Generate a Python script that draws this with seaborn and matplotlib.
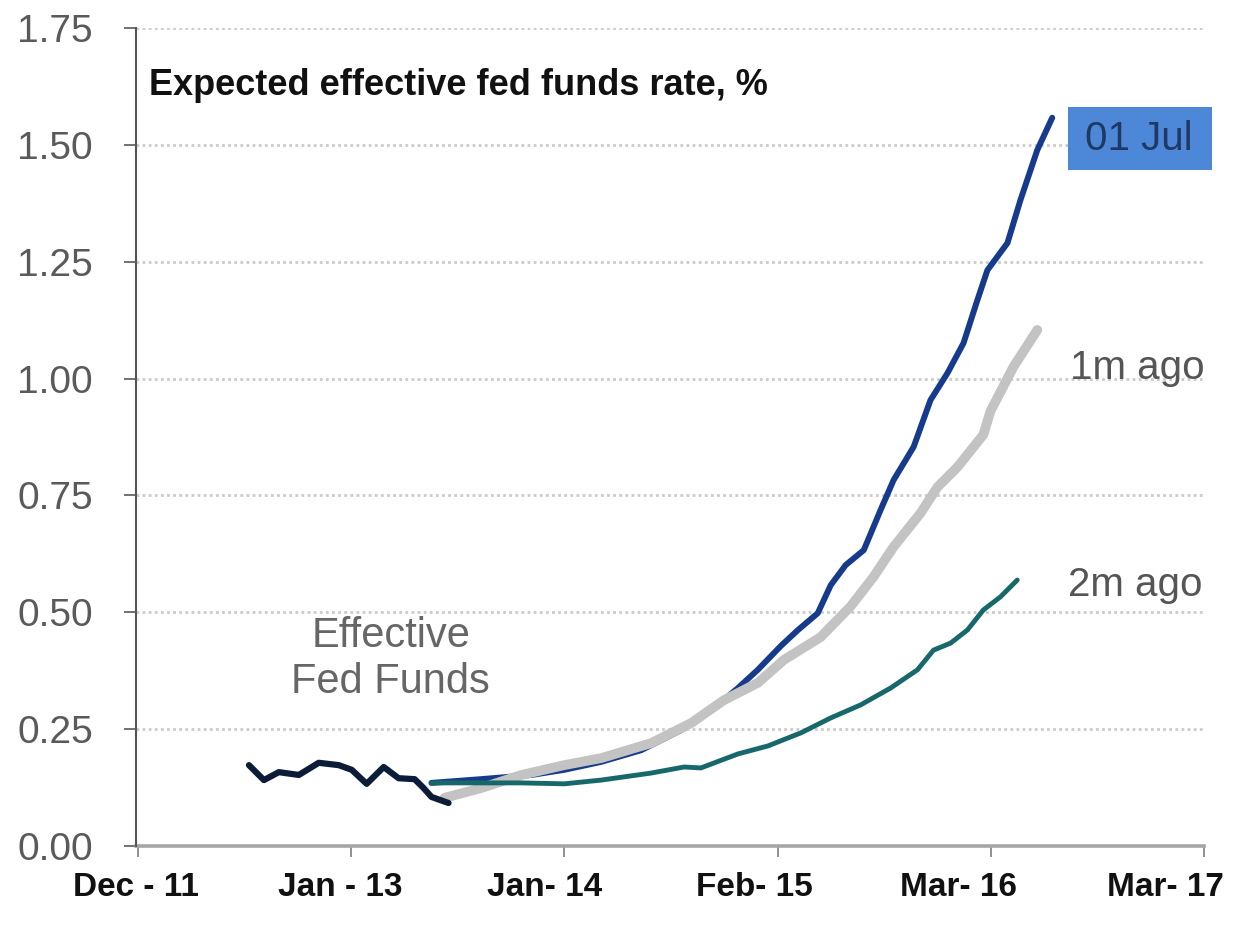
import numpy as np
import pandas as pd
import matplotlib
matplotlib.use("Agg")
import matplotlib.pyplot as plt
from matplotlib.patches import Rectangle
import seaborn as sns

# ---- data (x in axis tick units: 0 = Dec-11 ... 5 = Mar-17) ----
tick_labels = ["Dec - 11", "Jan - 13", "Jan- 14", "Feb- 15", "Mar- 16", "Mar- 17"]
label_pos = [-0.01, 0.95, 1.905, 2.893, 3.848, 4.817]

eff_x = [0.520, 0.590, 0.660, 0.754, 0.847, 0.941, 1.002, 1.072, 1.152, 1.222, 1.297, 1.339, 1.376, 1.456]
eff_y = [0.173, 0.141, 0.158, 0.152, 0.178, 0.173, 0.163, 0.133, 0.169, 0.145, 0.143, 0.124, 0.105, 0.092]

jul_x = [1.376, 1.610, 1.845, 1.999, 2.172, 2.360, 2.547, 2.701, 2.814, 2.907, 3.015, 3.095, 3.188,
         3.249, 3.319, 3.404, 3.483, 3.544, 3.638, 3.717, 3.797, 3.872, 3.937, 3.984, 4.078, 4.139,
         4.218, 4.288]
jul_y = [0.135, 0.143, 0.152, 0.163, 0.180, 0.205, 0.248, 0.295, 0.338, 0.377, 0.428, 0.462, 0.498,
         0.558, 0.601, 0.633, 0.719, 0.783, 0.854, 0.954, 1.012, 1.076, 1.168, 1.232, 1.290, 1.382,
         1.489, 1.558]

m1_x = [1.437, 1.610, 1.798, 1.999, 2.172, 2.406, 2.594, 2.748, 2.907, 3.029, 3.202, 3.343, 3.450,
        3.544, 3.670, 3.750, 3.844, 3.965, 3.998, 4.106, 4.218]
m1_y = [0.103, 0.124, 0.152, 0.173, 0.188, 0.220, 0.263, 0.312, 0.349, 0.398, 0.447, 0.513, 0.576,
        0.640, 0.712, 0.768, 0.811, 0.880, 0.930, 1.025, 1.104]

m2_x = [1.376, 1.610, 1.798, 1.999, 2.172, 2.406, 2.561, 2.640, 2.814, 2.954, 3.109, 3.249, 3.390,
        3.530, 3.656, 3.731, 3.811, 3.890, 3.965, 4.045, 4.124]
m2_y = [0.135, 0.135, 0.135, 0.133, 0.141, 0.156, 0.169, 0.167, 0.197, 0.214, 0.242, 0.274, 0.302,
        0.338, 0.377, 0.419, 0.434, 0.462, 0.505, 0.533, 0.569]

title = "Expected effective fed funds rate, %"

# ---- figure ----
sns.set_theme(style="white")
plt.rcParams['font.family'] = ['Liberation Sans', 'DejaVu Sans']

fig = plt.figure(figsize=(12.37, 9.25), dpi=100)
ax = fig.add_axes([136 / 1237, 79 / 925, (1204 - 136) / 1237, (846 - 28) / 925])

ax.set_xlim(0, 5)
ax.set_ylim(0, 1.75)
yt = np.arange(0, 1.76, 0.25)
for v in yt[1:]:
    ax.axhline(v, color="#cbcbcb", lw=2.0, ls=(0, (1, 1.2)), zorder=0)

def draw(xs, ys, color, lw, z):
    df = pd.DataFrame({"x": xs, "y": ys})
    sns.lineplot(data=df, x="x", y="y", ax=ax, color=color, lw=lw, sort=False,
                 estimator=None, zorder=z, solid_capstyle="round", solid_joinstyle="round")

draw(jul_x, jul_y, "#173b8c", 4.3, 3)
draw(m1_x, m1_y, "#c3c3c3", 7.0, 4)
draw(m2_x, m2_y, "#17686b", 3.5, 5)
draw(eff_x, eff_y, "#0c1c38", 4.5, 6)

ax.set_xlabel("")
ax.set_ylabel("")
ax.set_xticks(range(6))
ax.set_xticklabels([])
ax.set_xticks(label_pos, minor=True)
ax.set_xticklabels(tick_labels, minor=True, fontsize=24, fontweight="bold", color="#111111")
ax.set_yticks(yt)
ax.set_yticklabels([f"{v:.2f}" for v in yt], fontsize=28, color="#5a5a5a")
ax.tick_params(axis="y", length=9, width=1.3, color="#666666", pad=22, left=True)
ax.tick_params(axis="x", which="major", length=8, width=1.3, color="#888888", bottom=True)
ax.tick_params(axis="x", which="minor", length=0, pad=19, bottom=True)

for s in ["top", "right"]:
    ax.spines[s].set_visible(False)
ax.spines["left"].set_color("#555555")
ax.spines["left"].set_linewidth(1.5)
ax.spines["bottom"].set_color("#a6a6a6")
ax.spines["bottom"].set_linewidth(2.6)
ax.spines["left"].set_zorder(7)

ax.text(0.05, 1.628, title, fontsize=26, fontweight="bold", color="#111111",
        ha="left", va="center")
ax.text(1.185, 0.40, "Effective\nFed Funds", fontsize=30, color="#666666", ha="center",
        va="center", linespacing=1.22)
ax.text(4.686, 1.023, "1m ago", fontsize=29, color="#555555", ha="center", va="center")
ax.text(4.677, 0.558, "2m ago", fontsize=29, color="#555555", ha="center", va="center")
ax.add_patch(Rectangle((4.363, 1.446), 0.674, 0.135, fc="#4d88d8", ec="none",
                       clip_on=False, zorder=8))
ax.text(4.696, 1.512, "01 Jul", fontsize=29, color="#1f3864", ha="center", va="center",
        zorder=9, clip_on=False)

fig.savefig("out.png", dpi=100, facecolor="white")
